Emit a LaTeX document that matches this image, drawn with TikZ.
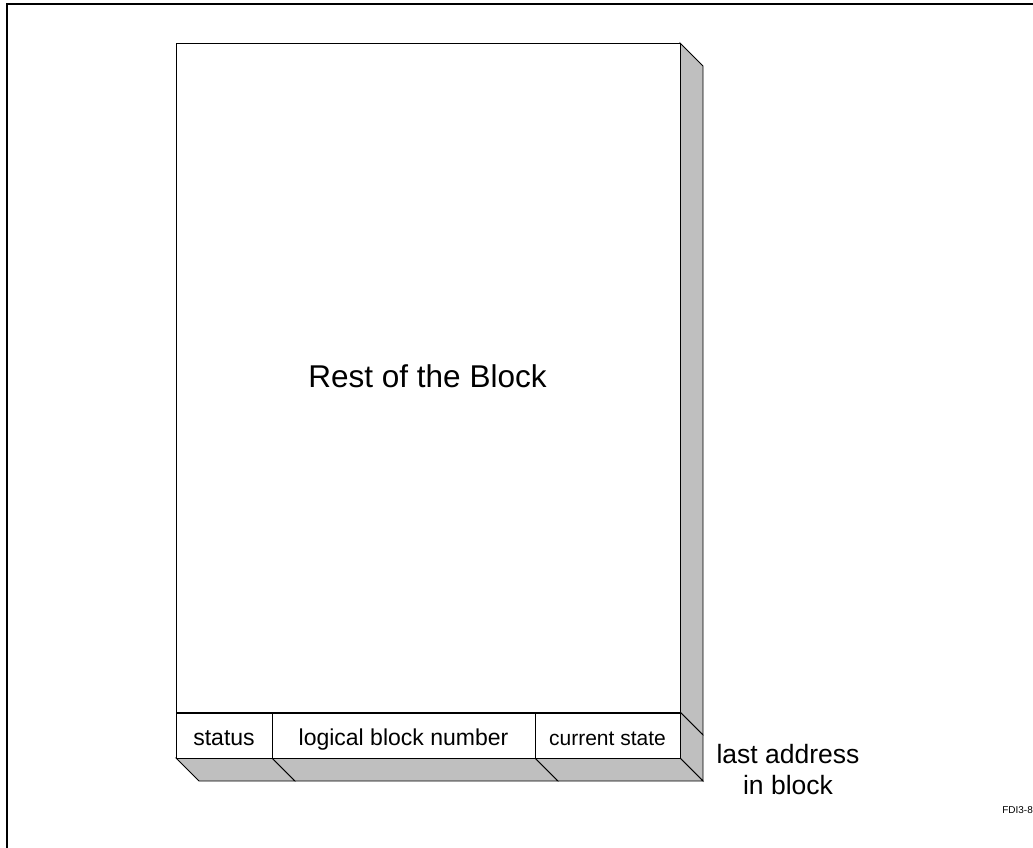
\documentclass[tikz,border=0pt]{standalone}
\usepackage{fontspec}
\setmainfont{Liberation Sans}
\begin{document}
\begin{tikzpicture}[x=1pt,y=-1pt,
  face/.style={draw=black,line width=0.9pt,fill=white},
  shade/.style={draw=black,line width=0.9pt,fill=black!25,line join=miter},
  cell/.style={face,minimum height=45pt,inner sep=0pt,anchor=north west,font=\fontsize{23}{26}\selectfont}]
\useasboundingbox (0,0) rectangle (1033,848);
% frame
\draw[line width=2.6pt] (7,848) -- (7,4) -- (1034,4);
% side faces
\filldraw[shade] (680,43) -- (703,66) -- (703,735) -- (680,712) -- cycle;
\filldraw[shade] (680,712) -- (703,735) -- (703,781) -- (680,758) -- cycle;
% bottom faces
\filldraw[shade] (176,758) -- (272,758) -- (295,781) -- (199,781) -- cycle;
\filldraw[shade] (272,758) -- (535,758) -- (558,781) -- (295,781) -- cycle;
\filldraw[shade] (535,758) -- (680,758) -- (703,781) -- (558,781) -- cycle;
% main box
\node[face,minimum width=504pt,minimum height=669pt,inner sep=0pt,anchor=north west] (rest) at (176,43) {};
\node[font=\fontsize{31.5}{36}\selectfont,anchor=base] (resttxt) at (427.5,387) {Rest of the Block};
% cells
\node[cell,minimum width=96pt] (status) at (176,713) {};
\node[cell,minimum width=263pt] (logical) at (272,713) {};
\node[cell,minimum width=145pt] (current) at (535,713) {};
\node[anchor=base,font=\fontsize{23}{26}\selectfont] (statustxt) at (224,745) {status};
\node[anchor=base,font=\fontsize{23}{26}\selectfont] (logicaltxt) at (403.5,745) {logical block number};
\node[anchor=base,font=\fontsize{21}{24}\selectfont] (currenttxt) at (607.5,745) {current state};
% label
\node[anchor=base,font=\fontsize{26.5}{31}\selectfont] (last) at (788,763) {last address};
\node[anchor=base,font=\fontsize{26.5}{31}\selectfont] (inblock) at (788,794) {in block};
\node[anchor=base east,font=\fontsize{10}{12}\selectfont,inner sep=0pt] (fig) at (1033,813) {FDI3-8};
\end{tikzpicture}
\end{document}
